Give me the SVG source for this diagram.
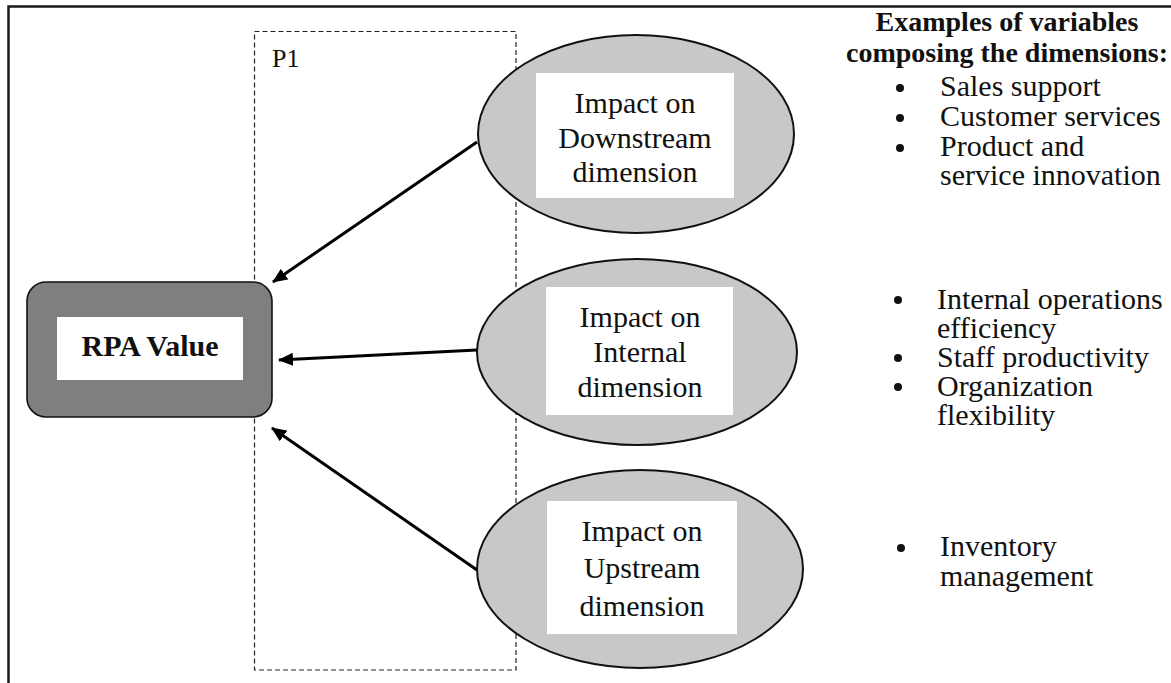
<svg xmlns="http://www.w3.org/2000/svg" width="1171" height="683" viewBox="0 0 1171 683">
  <defs>
    <style>
      text { font-family: 'Liberation Serif', 'Times New Roman', Times, serif; fill: #111; }
      .dim { font-size: 30px; text-anchor: middle; }
      .list { font-size: 30px; }
      .head { font-size: 28px; font-weight: bold; text-anchor: middle; }
      .oval { fill: #c8c8c8; stroke: #111; stroke-width: 2; }
      .label-bg { fill: #ffffff; }
      .link { stroke: #000; stroke-width: 3; fill: none; marker-end: url(#arrow); }
      .dot { fill: #111; }
    </style>
    <marker id="arrow" markerUnits="userSpaceOnUse" markerWidth="16" markerHeight="14" refX="14" refY="6.5" orient="auto">
      <path d="M0,0 L15,6.5 L0,13 z" fill="#000"/>
    </marker>
  </defs>

  <rect width="1171" height="683" fill="#ffffff"/>

  <!-- outer frame (open to the right and bottom) -->
  <rect x="8.5" y="6.5" width="1200" height="700" fill="none" stroke="#1a1a1a" stroke-width="2.5"/>

  <g font-family="'Liberation Serif', 'Times New Roman', Times, serif">
  <!-- dashed P1 region -->
  <g id="p1-region">
    <rect x="254.5" y="31.5" width="261.5" height="638.5" fill="none" stroke="#222" stroke-width="1.2" stroke-dasharray="5 3"/>
    <text x="272" y="67" font-size="26">P1</text>
  </g>

  <!-- RPA value node -->
  <g id="rpa-value">
    <rect x="27" y="282" width="245" height="135" rx="19" fill="#7f7f7f" stroke="#111" stroke-width="1.6"/>
    <rect class="label-bg" x="57" y="317" width="186" height="63"/>
    <text x="150" y="356" font-size="30" font-weight="bold" text-anchor="middle">RPA Value</text>
  </g>

  <!-- dimension nodes -->
  <g id="downstream">
    <ellipse class="oval" cx="636" cy="134" rx="158" ry="99"/>
    <rect class="label-bg" x="536" y="73" width="198" height="125"/>
    <text class="dim" x="635" y="113">Impact on</text>
    <text class="dim" x="635" y="148">Downstream</text>
    <text class="dim" x="635" y="182">dimension</text>
  </g>

  <g id="internal">
    <ellipse class="oval" cx="637" cy="352" rx="160" ry="93"/>
    <rect class="label-bg" x="546" y="287" width="187" height="128"/>
    <text class="dim" x="640" y="327">Impact on</text>
    <text class="dim" x="640" y="362">Internal</text>
    <text class="dim" x="640" y="397">dimension</text>
  </g>

  <g id="upstream">
    <ellipse class="oval" cx="640" cy="569" rx="163" ry="99"/>
    <rect class="label-bg" x="547" y="501" width="190" height="133"/>
    <text class="dim" x="642" y="541">Impact on</text>
    <text class="dim" x="642" y="578">Upstream</text>
    <text class="dim" x="642" y="616">dimension</text>
  </g>

  <!-- connectors -->
  <g id="connectors">
    <line class="link" x1="477" y1="142" x2="273" y2="282"/>
    <line class="link" x1="477" y1="350" x2="279" y2="360"/>
    <line class="link" x1="477" y1="570" x2="272" y2="428"/>
  </g>

  <!-- variables list -->
  <g id="examples">
    <text class="head" x="1007" y="31">Examples of variables</text>
    <text class="head" x="1007" y="62">composing the dimensions:</text>

    <circle class="dot" cx="900" cy="88" r="4"/>
    <text class="list" x="940" y="96">Sales support</text>
    <circle class="dot" cx="900" cy="118" r="4"/>
    <text class="list" x="940" y="126">Customer services</text>
    <circle class="dot" cx="900" cy="148" r="4"/>
    <text class="list" x="940" y="156">Product and</text>
    <text class="list" x="940" y="185">service innovation</text>

    <circle class="dot" cx="898" cy="300" r="4"/>
    <text class="list" x="937" y="309">Internal operations</text>
    <text class="list" x="937" y="338">efficiency</text>
    <circle class="dot" cx="898" cy="358" r="4"/>
    <text class="list" x="937" y="367">Staff productivity</text>
    <circle class="dot" cx="898" cy="387" r="4"/>
    <text class="list" x="937" y="396">Organization</text>
    <text class="list" x="937" y="425">flexibility</text>

    <circle class="dot" cx="901" cy="548" r="4"/>
    <text class="list" x="940" y="556">Inventory</text>
    <text class="list" x="940" y="586">management</text>
  </g>
  </g>
</svg>
